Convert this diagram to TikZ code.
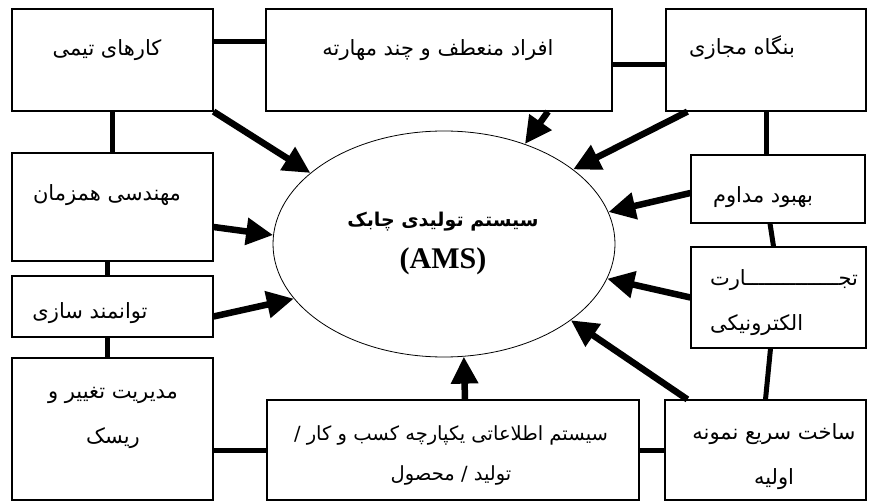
\documentclass[tikz,border=0pt]{standalone}
\usepackage{fontspec}
\setmainfont{Liberation Serif}
\newfontfamily\persianfont[Script=Arabic]{DejaVu Sans}
\usetikzlibrary{arrows.meta,shapes.geometric}
\TeXXeTstate=1
\newcommand\fatext[1]{{\persianfont\beginR #1\endR}}
\tikzset{
  box/.style={draw, line width=1.2pt, inner sep=0pt},
  txt/.style={font=\fontsize{21}{45}\selectfont, align=center, inner sep=0pt},
  link/.style={line width=5pt},
  feed/.style={line width=6.5pt, -{Triangle[length=27pt,width=26pt]}}
}

\begin{document}
\begin{tikzpicture}[x=1pt, y=-1pt] % boxes round the AMS ellipse
\useasboundingbox (0,0) rectangle (869,502);

% boxes
\node[box, minimum width=201pt, minimum height=102pt] (team) at (112.5,60) {};
\node[box, minimum width=346pt, minimum height=102pt] (skill) at (439,60) {};
\node[box, minimum width=200pt, minimum height=102pt] (virt) at (766,60) {};
\node[box, minimum width=201pt, minimum height=108pt] (eng) at (112.5,207) {};
\node[box, minimum width=201pt, minimum height=61pt] (empower) at (112.5,306.5) {};
\node[box, minimum width=201pt, minimum height=142pt] (change) at (112.5,429) {};
\node[box, minimum width=372pt, minimum height=100pt] (info) at (453,450) {};
\node[box, minimum width=201pt, minimum height=100pt] (rapid) at (765.5,450) {};
\node[box, minimum width=174pt, minimum height=68pt] (imp) at (778,189) {};
\node[box, minimum width=175pt, minimum height=101pt] (ecom) at (778.5,297.5) {};
\node[draw, ellipse, line width=0.8pt, minimum width=342pt, minimum height=226pt] (ams) at (444,244) {};

% texts
\node[txt] (team-t) at (107,50) {\fatext{کارهای تیمی}};
\node[txt] (skill-t) at (438,50) {\fatext{افراد منعطف و چند مهارته}};
\node[txt] (virt-t) at (742,48) {\fatext{بنگاه مجازی}};
\node[txt] (eng-t) at (107,195) {\fatext{مهندسی همزمان}};
\node[txt] (empower-t) at (90,313) {\fatext{توانمند سازی}};
\node[txt] (change-t) at (113,418) {\fatext{مدیریت تغییر و}\\ \fatext{ریسک}};
\node[txt, font=\fontsize{19.5}{45}\selectfont] (info-t) at (451,455) {\fatext{سیستم اطلاعاتی یکپارچه کسب و کار /}\\[-5pt] \fatext{تولید / محصول}};
\node[txt] (rapid-t) at (774,457) {\fatext{ساخت سریع نمونه}\\ \fatext{اولیه}};
\node[txt] (imp-t) at (763,197) {\fatext{بهبود مداوم}};
\node[txt, align=left] (ecom-t) at (784,303) {\fatext{تجـــــــــــــــارت}\\ \fatext{الکترونیکی}};
\node[txt, font=\bfseries\fontsize{19}{42}\selectfont] (ams-t) at (443,243) {\fatext{سیستم تولیدی چابک}\\ {\fontsize{30}{30}\selectfont (AMS)}};

% links between boxes
\draw[link] ([yshift=18pt]team.east) -- ([yshift=18pt]team.east -| skill.west);
\draw[link] ([yshift=-5pt]skill.east) -- ([yshift=-5pt]skill.east -| virt.west);
\draw[link] (team.south) -- (eng.north);
\draw[link] ([xshift=-5.5pt]eng.south) -- ([xshift=-5.5pt]empower.north);
\draw[link] ([xshift=-5.5pt]empower.south) -- ([xshift=-5.5pt]change.north);
\draw[link] (info.west) -- (info.west -| change.east);
\draw[link] (info.east) -- (rapid.west);
\draw[link] (virt.south) -- (virt.south |- imp.north);
\draw[link] ([xshift=-8pt]imp.south) -- ([xshift=-5pt]ecom.north);
\draw[link] ([xshift=-8pt]ecom.south) -- (rapid.north);

% arrows into the ellipse
\draw[feed] (team.south east) -- (ams.152);
\draw[feed] ([yshift=-20pt]eng.east) -- (ams.177);
\draw[feed] ([yshift=-10pt]empower.east) -- (ams.200);
\draw[feed] ([xshift=109pt]skill.south) -- (ams.51);
\draw[feed] ([xshift=22pt]virt.south west) -- (ams.30);
\draw[feed] ([yshift=-4pt]imp.west) -- (ams.11);
\draw[feed] (ecom.west) -- (ams.348);
\draw[feed] ([xshift=23pt]rapid.north west) -- (ams.329);
\draw[feed] ([xshift=12pt]info.north) -- (ams.280);
\end{tikzpicture}
\end{document}
